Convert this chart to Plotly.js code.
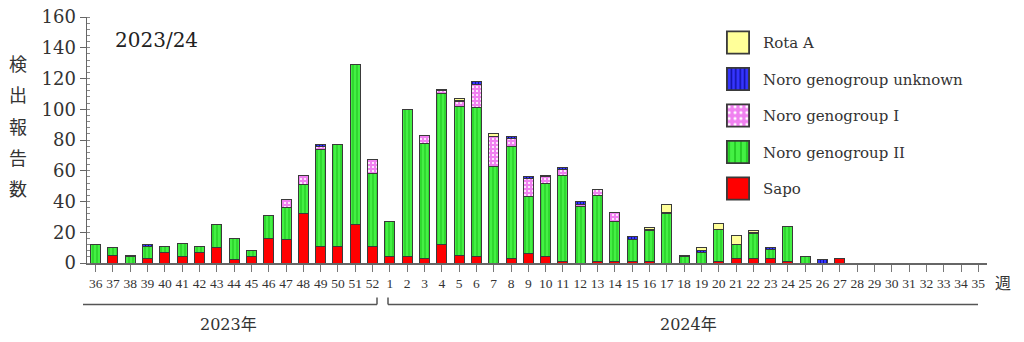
<!DOCTYPE html>
<html>
<head>
<meta charset="utf-8">
<script src="https://cdn.plot.ly/plotly-3.0.1.min.js"></script>
<style>
html,body{margin:0;padding:0;background:#fff;}
#chart{width:1024px;height:342px;}
</style>
</head>
<body>
<div id="chart"></div>
<script>
// Week categories (2023 weeks 36-52, 2024 weeks 1-35)
const weeks = ['36','37','38','39','40','41','42','43','44','45','46','47','48','49','50','51','52',
  '1','2','3','4','5','6','7','8','9','10','11','12','13','14','15','16','17','18','19','20',
  '21','22','23','24','25','26','27','28','29','30','31','32','33','34','35'];

const sapo    = [0,5,0,3,7,4,7,10,2,4,16,15,32,11,11,25,11,
  4,4,3,12,5,4,0,3,6,4,1,0,1,1,1,1,0,0,0,1,3,3,3,1,0,0,3,0,0,0,0,0,0,0,0];
const noroII  = [12,5,4,8,4,9,4,15,14,4,15,21,19,63,66,104,47,
  23,96,75,98,97,97,63,73,37,48,56,37,43,26,14,20,32,4,7,21,9,16,6,23,4,0,0,0,0,0,0,0,0,0,0];
const noroI   = [0,0,0,0,0,0,0,0,0,0,0,5,6,2,0,0,9,
  0,0,5,2,3,15,19,5,12,4,4,1,4,6,0,0,0,0,0,0,0,0,0,0,0,0,0,0,0,0,0,0,0,0,0];
const noroUnk = [0,0,1,1,0,0,0,0,0,0,0,0,0,1,0,0,0,
  0,0,0,1,1,2,0,1,1,1,1,2,0,0,2,1,1,1,1,0,0,1,1,0,0,2,0,0,0,0,0,0,0,0,0];
const rotaA   = [0,0,0,0,0,0,0,0,0,0,0,0,0,0,0,0,0,
  0,0,0,0,1,0,2,0,0,0,0,0,0,0,0,1,5,0,2,4,6,1,0,0,0,0,0,0,0,0,0,0,0,0,0];

const yTitleChars = ['検','出','報','告','数'];

const nz = a => a.map(v => v === 0 ? null : v);
const lineStyle = {color:'#3a3a3a', width:1};

const traces = [
  {name:'Sapo', y:nz(sapo), marker:{color:'#ff0000', line:lineStyle}},
  {name:'Noro genogroup II', y:nz(noroII), marker:{color:'#33ee33', line:lineStyle,
     pattern:{shape:'|', bgcolor:'#44f044', fgcolor:'#22c822', size:4, solidity:0.3}}},
  {name:'Noro genogroup I', y:nz(noroI), marker:{color:'#ff99ff', line:lineStyle,
     pattern:{shape:'.', bgcolor:'#f080f0', fgcolor:'#ffffff', size:4, solidity:0.22}}},
  {name:'Noro genogroup unknown', y:nz(noroUnk), marker:{color:'#3333ff', line:lineStyle,
     pattern:{shape:'|', bgcolor:'#3535ff', fgcolor:'#1010a0', size:3, solidity:0.35}}},
  {name:'Rota A', y:nz(rotaA), marker:{color:'#ffff99', line:lineStyle}}
].map((t,i) => Object.assign({type:'bar', x:weeks, legendgroup:'g'+i, legendrank:10-i, hoverinfo:'x+y+name'}, t));

// pixel helpers (plot area: x 87..987, y 16.7..263.3)
const PX = px => (px - 87) / 900;
const PY = py => (263.3 - py) / 246.6;

const serif = 'DejaVu Serif, serif';
const cjk = 'Noto Sans CJK JP, sans-serif';

const annotations = [
  {text:'2023/24', x:PX(156), y:PY(40), font:{family:serif, size:20, color:'#222'}},
  {text:'週', x:PX(1003), y:PY(282), font:{family:cjk, size:16, color:'#333'}},
  {text:'2023年', x:PX(228), y:PY(325), font:{family:serif+',Noto Sans CJK JP', size:16, color:'#333'}},
  {text:'2024年', x:PX(688), y:PY(325), font:{family:serif+',Noto Sans CJK JP', size:16, color:'#333'}}
];
yTitleChars.forEach((c,i) => annotations.push(
  {text:c, x:PX(18), y:PY(63 + i*31.3), font:{family:cjk, size:18, color:'#333'}}));
annotations.forEach(a => Object.assign(a, {xref:'paper', yref:'paper', showarrow:false, xanchor:'center', yanchor:'middle'}));

const bc = '#555';
const shapes = [
  {x0:PX(83), x1:PX(377), y0:PY(305), y1:PY(305)},
  {x0:PX(377), x1:PX(377), y0:PY(305), y1:PY(298)},
  {x0:PX(388), x1:PX(978), y0:PY(305), y1:PY(305)},
  {x0:PX(388), x1:PX(388), y0:PY(305), y1:PY(298)}
].map(s => Object.assign({type:'line', xref:'paper', yref:'paper', line:{color:bc, width:1.5}}, s));

const layout = {
  width:1024, height:342,
  margin:{l:87, r:37, t:16.7, b:78.7},
  paper_bgcolor:'#fff', plot_bgcolor:'#fff',
  barmode:'stack', bargap:0.42,
  showlegend:true,
  legend:{x:PX(723), y:PY(26), xanchor:'left', yanchor:'top', traceorder:'grouped',
    tracegroupgap:14, font:{family:serif, size:15, color:'#333'}, bgcolor:'rgba(0,0,0,0)'},
  xaxis:{type:'category', showline:true, linecolor:'#666', linewidth:1.5, ticks:'outside',
    ticklen:7, tickcolor:'#777', tickwidth:1, showgrid:false, zeroline:false, fixedrange:true,
    tickfont:{family:'Liberation Serif, serif', size:13.5, color:'#333'}, tickangle:0},
  yaxis:{range:[0,160], dtick:20, showline:true, linecolor:'#666', linewidth:1.5, ticks:'outside',
    ticklen:6, tickcolor:'#666', showgrid:false, zeroline:false, fixedrange:true,
    tickfont:{family:serif, size:18, color:'#333'},
    minor:{dtick:4, ticks:'inside', ticklen:3, tickcolor:'#888', showgrid:false}},
  annotations:annotations,
  shapes:shapes
};

Plotly.newPlot('chart', traces, layout, {displayModeBar:false, staticPlot:true}).then(() => {
  document.querySelectorAll('.legend .legendpoints path').forEach(p => {
    const t = p.getAttribute('transform') || '';
    p.setAttribute('transform', t + ' translate(-5,0) scale(1.85)');
  });
});
</script>
</body>
</html>
